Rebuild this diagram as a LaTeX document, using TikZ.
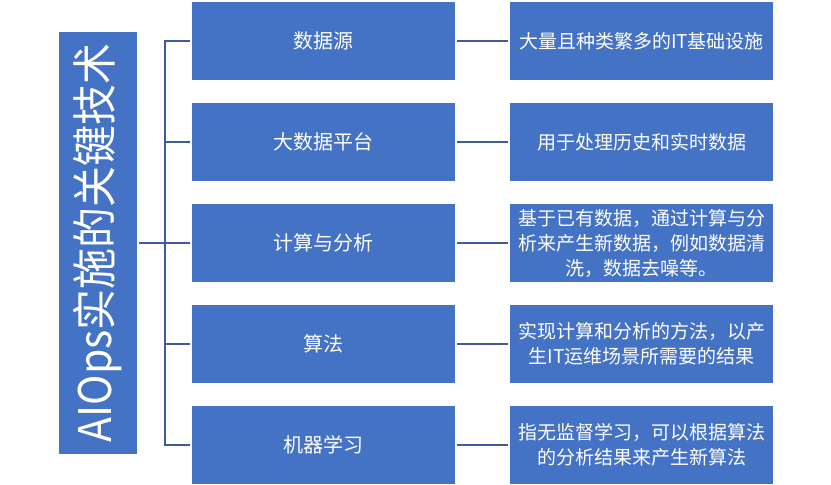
\documentclass[tikz,border=0pt]{standalone}
\usepackage{fontspec}
\setmainfont{Noto Sans CJK SC}
\usetikzlibrary{positioning}
\definecolor{boxblue}{RGB}{68,114,196}
\definecolor{lineblue}{RGB}{62,92,155}

\begin{document}
\begin{tikzpicture}[x=1pt,y=-1pt,
    box/.style={fill=boxblue, draw=none, text=white, inner sep=0pt,
                minimum width=263pt, minimum height=78pt, align=center},
    stagebox/.style={box, font=\fontsize{20}{24}\selectfont},
    notebox/.style={box, font=\fontsize{19}{25}\selectfont},
    link/.style={draw=lineblue, line width=2.2pt, shorten <=2pt, shorten >=2pt}]
  \useasboundingbox (0,0) rectangle (831,485);
  \node[box, minimum width=78pt, minimum height=422pt,
        font=\fontsize{45}{50}\selectfont] (root) at (98,243)
        {\rotatebox{90}{\scalebox{0.91}[1]{AIOps实施的关键技术}}};
  \coordinate (bus) at (165,0);
  \foreach \lbl/\desc [count=\i] in {
      数据源/大量且种类繁多的IT基础设施,
      大数据平台/用于处理历史和实时数据,
      计算与分析/基于已有数据，通过计算与分\\析来产生新数据，例如数据清\\洗，数据去噪等。,
      算法/实现计算和分析的方法，以产\\生IT运维场景所需要的结果,
      机器学习/指无监督学习，可以根据算法\\的分析结果来产生新算法} {
    \pgfmathsetmacro{\yc}{41+(\i-1)*101}
    \node[stagebox] (m\i) at (323.5,\yc) {\lbl};
    \node[notebox] (r\i) at (641.5,\yc) {\desc};
    \draw[link] (m\i) -- (r\i);
  }
  \draw[link] (m1.west) -| (bus |- m5.west) -- (m5.west);
  \foreach \i in {2,3,4}
    \draw[link, shorten <=0pt] (bus |- m\i.west) -- (m\i.west);
  \draw[link] (root.east) -- (root.east -| m3.west);
\end{tikzpicture}
\end{document}
